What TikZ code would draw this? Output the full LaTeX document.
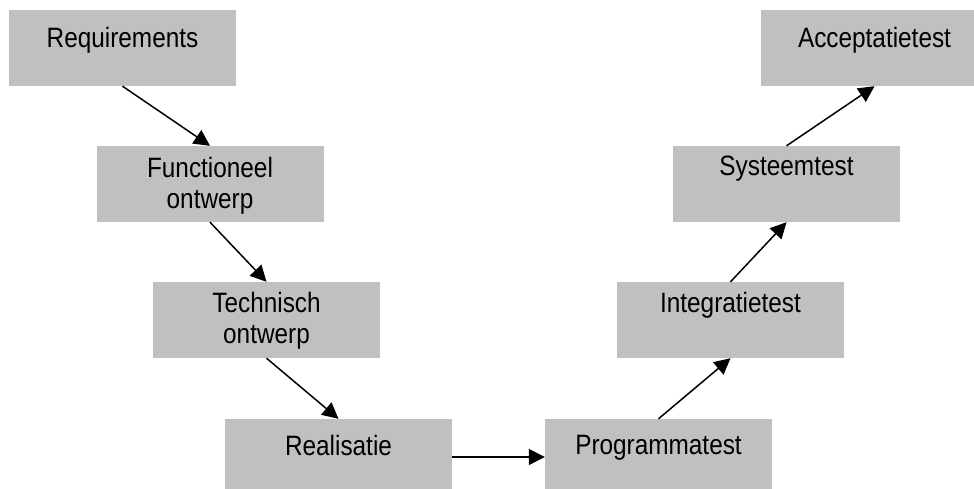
\documentclass[tikz,border=0pt]{standalone}
\usepackage{fontspec}
\setmainfont[FakeStretch=0.87]{Liberation Sans}
\usetikzlibrary{arrows.meta}
\definecolor{boxgray}{RGB}{192,192,192}
\tikzset{
  phase/.style={rectangle, fill=boxgray, draw=none, minimum width=227pt,
                minimum height=76pt, inner sep=0pt},
  caption/.style={anchor=base, inner sep=0pt, align=center,
                  font=\fontsize{28}{31}\selectfont},
  flow/.style={line width=1.5pt, -{Triangle[length=16pt,width=16pt]}}
}
\begin{document}
\begin{tikzpicture}[x=1pt, y=-1pt]
  \useasboundingbox (0,0) rectangle (974,488);
  \clip (0,0) rectangle (974,488);

  % phases of the V-model
  \node[phase] (req)   at (122.5,48)  {};
  \node[phase] (fun)   at (210,184)   {};
  \node[phase] (tech)  at (266.5,320) {};
  \node[phase] (real)  at (338.5,457) {};
  \node[phase] (prog)  at (658.5,457) {};
  \node[phase] (integ) at (730.5,320) {};
  \node[phase] (sys)   at (786.5,184) {};
  \node[phase] (acc)   at (874.5,48)  {};

  % box texts (base = baseline of the last line)
  \node[caption] (reqt)   at (122.5,47)  {Requirements};
  \node[caption] (funt)   at (210,208)   {Functioneel\\ontwerp};
  \node[caption] (techt)  at (266.5,343) {Technisch\\ontwerp};
  \node[caption] (realt)  at (338.5,455) {Realisatie};
  \node[caption] (progt)  at (658.5,454) {Programmatest};
  \node[caption] (integt) at (730.5,312) {Integratietest};
  \node[caption] (syst)   at (786.5,175) {Systeemtest};
  \node[caption] (acct)   at (874.5,47)  {Acceptatietest};

  % transitions
  \draw[flow] (req.south)  -- (fun.north);
  \draw[flow] (fun.south)  -- (tech.north);
  \draw[flow] (tech.south) -- (real.north);
  \draw[flow] (real.east)  -- (prog.west);
  \draw[flow] (prog.north) -- (integ.south);
  \draw[flow] (integ.north) -- (sys.south);
  \draw[flow] (sys.north)  -- (acc.south);
\end{tikzpicture}
\end{document}
